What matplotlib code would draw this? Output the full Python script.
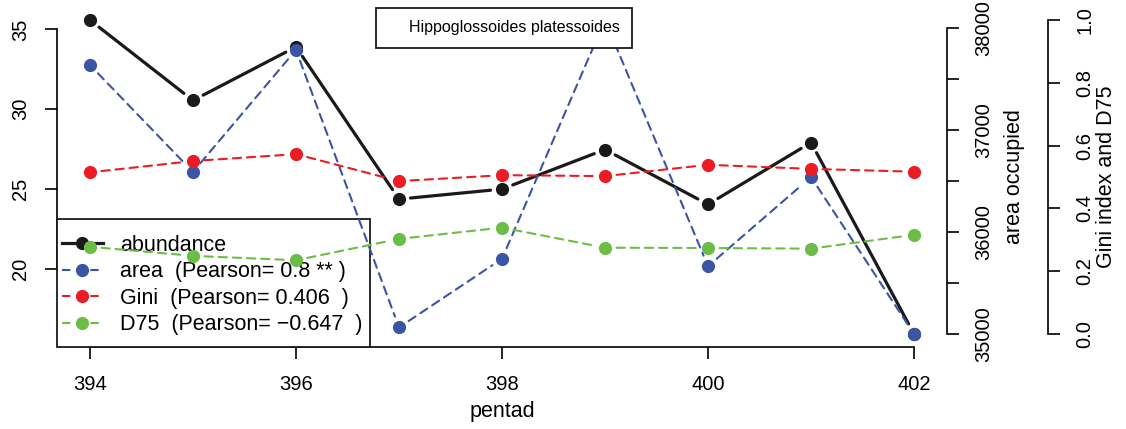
import matplotlib
matplotlib.use("Agg")
import matplotlib.pyplot as plt
from matplotlib.lines import Line2D
from matplotlib.patches import Rectangle

plt.rcParams['font.family'] = ['Liberation Sans', 'DejaVu Sans']

# values
pentad = [394, 395, 396, 397, 398, 399, 400, 401, 402]
abundance = [35.59, 30.55, 33.91, 24.36, 24.99, 27.47, 24.03, 27.91, 15.90]
area = [37639, 36590, 37787, 35065, 35738, 38080, 35665, 36540, 35000]
gini = [0.515, 0.551, 0.573, 0.487, 0.506, 0.503, 0.539, 0.526, 0.517]
d75 = [0.278, 0.249, 0.235, 0.303, 0.339, 0.275, 0.274, 0.272, 0.316]

x_ticks = [394, 396, 398, 400, 402]
abund_ticks = [20, 25, 30, 35]
area_ticks = [35000, 35500, 36000, 36500, 37000, 37500, 38000]
gini_ticks = [0.0, 0.2, 0.4, 0.6, 0.8, 1.0]

legend_labels = ['abundance',
                 'area  (Pearson= 0.8 ** )',
                 'Gini  (Pearson= 0.406  )',
                 'D75  (Pearson= \u22120.647  )']
species = 'Hippoglossoides platessoides'

BLACK = '#1a1a1a'
BLUE = '#3a55a4'
RED = '#ed1c24'
GREEN = '#6cbd45'
TICK_FS = 14.5
LAB_FS = 15.5
LEG_FS = 15.5
DASH = (0, (4, 2.8))
MS = 9.5
GAP = 8.3


def plot_b(ax, x, y, color, ls, lw):
    """R type='b': points joined by lines that stop short of each point."""
    for i in range(len(x) - 1):
        ax.annotate('', xy=(x[i + 1], y[i + 1]), xytext=(x[i], y[i]),
                    arrowprops=dict(arrowstyle='-', color=color, lw=lw,
                                    linestyle=ls, shrinkA=GAP, shrinkB=GAP))
    ax.plot(x, y, 'o', linestyle='none', color=color, ms=MS, mew=0)


def r_axis_style(ax):
    for s in ax.spines.values():
        s.set_visible(False)
        s.set_linewidth(1.2)
    ax.tick_params(length=8.6, width=1.2, labelsize=TICK_FS, direction='out')


def r_lim(vals):
    lo, hi = min(vals), max(vals)
    d = 0.04 * (hi - lo)
    return lo - d, hi + d


fig = plt.figure(figsize=(11.26, 4.29), dpi=100)
ax = fig.add_axes([57 / 1126, 1 - 346.6 / 429, 890 / 1126, 339.1 / 429])
ax.patch.set_alpha(0)

# abundance (left axis)
plot_b(ax, pentad, abundance, BLACK, '-', 2.3)
r_axis_style(ax)
ax.spines['left'].set_visible(True)
ax.spines['bottom'].set_visible(True)
ax.spines['left'].set_bounds(20, 35)
ax.spines['bottom'].set_bounds(394, 402)
ax.set_xticks(x_ticks)
ax.set_yticks(abund_ticks)
ax.tick_params(axis='x', pad=12)
ax.tick_params(axis='y', pad=11, labelrotation=90)
for t in ax.get_yticklabels():
    t.set_va('center')
ax.set_xlabel('pentad', fontsize=LAB_FS, labelpad=5)

# legend box (drawn under the later series, as in the original)
ax.add_patch(Rectangle((0, 0), (370 - 57) / 890, (346.6 - 219) / 339.1,
                       transform=ax.transAxes, facecolor='white',
                       edgecolor=BLACK, lw=1.3, zorder=4.5, clip_on=False))
handles = [
    Line2D([], [], color=BLACK, lw=2.3, ls='-', marker='o', ms=MS, mew=0),
    Line2D([], [], color=BLUE, lw=1.5, ls=DASH, marker='o', ms=MS, mew=0),
    Line2D([], [], color=RED, lw=1.5, ls=DASH, marker='o', ms=MS, mew=0),
    Line2D([], [], color=GREEN, lw=1.5, ls=DASH, marker='o', ms=MS, mew=0),
]
ax.legend(handles, legend_labels, loc='upper left',
          bbox_to_anchor=(5 / 890, (346.6 - 235) / 339.1),
          borderaxespad=0, borderpad=0, fontsize=LEG_FS, frameon=False,
          handlelength=1.9, handletextpad=0.8, labelspacing=0.25)

# area occupied (first right axis)
ax2 = ax.twinx()
plot_b(ax2, pentad, area, BLUE, DASH, 1.5)
ax2.set_ylim(*r_lim(area))
r_axis_style(ax2)
ax2.spines['right'].set_visible(True)
ax2.spines['right'].set_bounds(35000, 38000)
ax2.set_yticks(area_ticks)
ax2.set_yticklabels([str(v) if v % 1000 == 0 else '' for v in area_ticks])
ax2.tick_params(axis='y', pad=11, labelrotation=90)
for t in ax2.get_yticklabels():
    t.set_va('center')
ax2.set_ylabel('area occupied', fontsize=LAB_FS, labelpad=8)

# Gini index and D75 (second right axis)
ax3 = ax.twinx()
plot_b(ax3, pentad, gini, RED, DASH, 1.5)
plot_b(ax3, pentad, d75, GREEN, DASH, 1.5)
ax3.set_ylim(-0.04, 1.04)
r_axis_style(ax3)
ax3.spines['right'].set_visible(True)
ax3.spines['right'].set_position(('outward', 72.7))
ax3.spines['right'].set_bounds(0, 1)
ax3.set_yticks(gini_ticks)
ax3.set_yticklabels(['%.1f' % v for v in gini_ticks])
ax3.tick_params(axis='y', pad=11, labelrotation=90)
for t in ax3.get_yticklabels():
    t.set_va('center')
ax3.set_ylabel('Gini index and D75', fontsize=LAB_FS, labelpad=1)

ax.set_xlim(*r_lim(pentad))
ax.set_ylim(*r_lim(abundance))

# species box on top
sp = ax3.legend([Line2D([], [], ls='none')], [species], loc='upper left',
                bbox_to_anchor=((376 - 57) / 890, 1.0), borderaxespad=0,
                fontsize=11.5, frameon=True, fancybox=False, handlelength=1.0,
                handletextpad=0.25, borderpad=0.8, framealpha=1)
sp.get_frame().set_edgecolor(BLACK)
sp.get_frame().set_linewidth(1.3)

fig.savefig('out.png', dpi=100)
